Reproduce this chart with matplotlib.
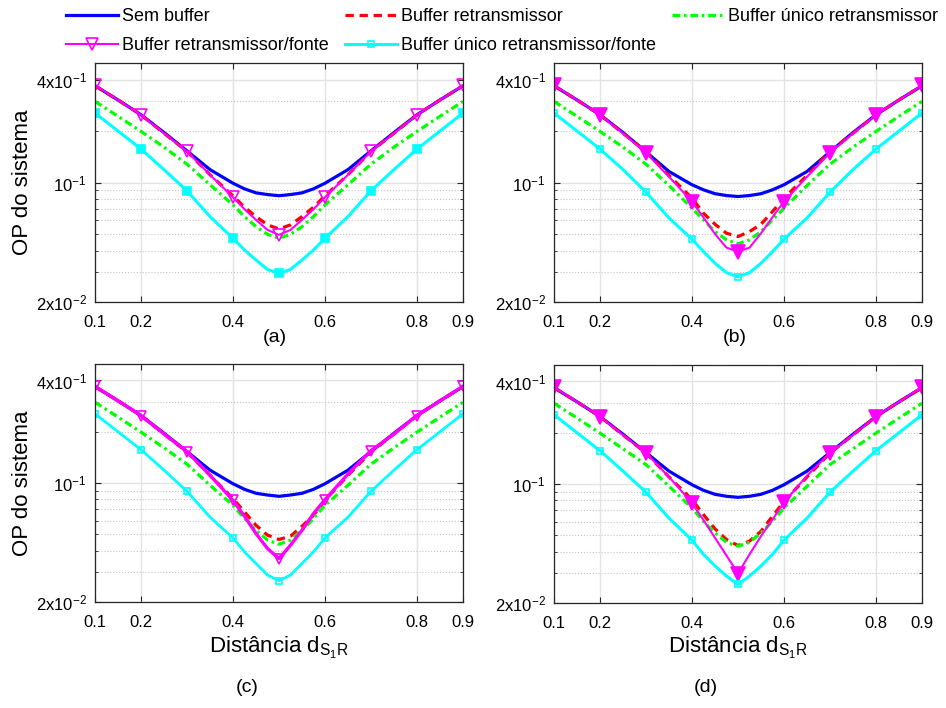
import matplotlib
matplotlib.use('Agg')
import matplotlib.pyplot as plt
from matplotlib.lines import Line2D
from matplotlib.ticker import LogLocator, NullFormatter

plt.rcParams['font.family'] = ['Liberation Sans', 'DejaVu Sans']
plt.rcParams['mathtext.fontset'] = 'custom'
plt.rcParams['mathtext.rm'] = 'Liberation Sans'
plt.rcParams['mathtext.it'] = 'Liberation Sans:italic'
plt.rcParams['mathtext.default'] = 'regular'

# distance d_S1R
dist = [0.10, 0.15, 0.20, 0.25, 0.30, 0.35, 0.40, 0.425, 0.45, 0.475, 0.50,
        0.525, 0.55, 0.575, 0.60, 0.65, 0.70, 0.75, 0.80, 0.85, 0.90]

# (a)
a_sem = [0.368, 0.304, 0.249, 0.196, 0.153, 0.119, 0.099, 0.0918, 0.087, 0.085, 0.0837,
         0.085, 0.087, 0.0918, 0.099, 0.119, 0.153, 0.196, 0.249, 0.304, 0.368]
a_ret = [0.368, 0.304, 0.249, 0.194, 0.152, 0.111, 0.0836, 0.0717, 0.0632, 0.0565, 0.0535,
         0.0565, 0.0632, 0.0717, 0.0836, 0.111, 0.152, 0.194, 0.249, 0.304, 0.368]
a_uni = [0.298, 0.244, 0.199, 0.161, 0.128, 0.097, 0.074, 0.0632, 0.0552, 0.0498, 0.0472,
         0.0498, 0.0552, 0.0632, 0.074, 0.097, 0.128, 0.161, 0.199, 0.244, 0.298]
a_retf = [0.370, 0.304, 0.249, 0.194, 0.152, 0.111, 0.082, 0.0698, 0.0605, 0.0528, 0.0494,
          0.0528, 0.0605, 0.0698, 0.082, 0.111, 0.152, 0.194, 0.249, 0.304, 0.370]
a_unif = [0.255, 0.200, 0.157, 0.119, 0.0894, 0.0632, 0.0472, 0.0403, 0.0352, 0.031, 0.0294,
          0.031, 0.0352, 0.0403, 0.0472, 0.0632, 0.0894, 0.119, 0.157, 0.200, 0.255]

# (b)
b_sem = [0.368, 0.304, 0.249, 0.196, 0.151, 0.116, 0.097, 0.0906, 0.086, 0.0839, 0.0828,
         0.0839, 0.086, 0.0906, 0.097, 0.116, 0.151, 0.196, 0.249, 0.304, 0.368]
b_ret = [0.368, 0.304, 0.249, 0.194, 0.152, 0.110, 0.081, 0.0661, 0.057, 0.0505, 0.0483,
         0.0516, 0.057, 0.0676, 0.081, 0.110, 0.152, 0.194, 0.249, 0.304, 0.368]
b_uni = [0.298, 0.244, 0.199, 0.161, 0.128, 0.096, 0.0708, 0.0605, 0.0516, 0.0462, 0.0438,
         0.0462, 0.0516, 0.0605, 0.0708, 0.096, 0.128, 0.161, 0.199, 0.244, 0.298]
b_retf = [0.370, 0.304, 0.249, 0.194, 0.149, 0.108, 0.0774, 0.0624, 0.050, 0.0416, 0.0394,
          0.0416, 0.0505, 0.0627, 0.0774, 0.108, 0.149, 0.194, 0.249, 0.304, 0.370]
b_unif = [0.255, 0.200, 0.157, 0.119, 0.0878, 0.062, 0.0466, 0.0394, 0.0337, 0.0297, 0.0281,
          0.0297, 0.0337, 0.0394, 0.0466, 0.062, 0.0878, 0.119, 0.157, 0.200, 0.255]

# (c)
c_sem = [0.368, 0.304, 0.249, 0.196, 0.153, 0.119, 0.099, 0.0918, 0.087, 0.085, 0.0835,
         0.085, 0.087, 0.0918, 0.099, 0.119, 0.153, 0.196, 0.249, 0.304, 0.368]
c_ret = [0.368, 0.304, 0.249, 0.194, 0.152, 0.111, 0.081, 0.0676, 0.0565, 0.0494, 0.0466,
         0.0487, 0.0557, 0.0646, 0.079, 0.111, 0.152, 0.194, 0.249, 0.304, 0.368]
c_uni = [0.298, 0.244, 0.199, 0.161, 0.129, 0.097, 0.074, 0.0618, 0.0528, 0.0462, 0.0437,
         0.0462, 0.0528, 0.0618, 0.074, 0.097, 0.129, 0.161, 0.199, 0.244, 0.298]
c_retf = [0.370, 0.304, 0.249, 0.194, 0.153, 0.111, 0.0791, 0.0638, 0.0505, 0.0412, 0.036,
          0.0431, 0.0528, 0.0661, 0.0799, 0.113, 0.155, 0.194, 0.249, 0.304, 0.370]
c_unif = [0.255, 0.200, 0.157, 0.119, 0.0894, 0.063, 0.0476, 0.0394, 0.0337, 0.0288, 0.0267,
          0.0288, 0.0337, 0.0394, 0.0476, 0.063, 0.0894, 0.119, 0.157, 0.200, 0.255]

# (d)
d_sem = [0.368, 0.304, 0.249, 0.196, 0.153, 0.119, 0.099, 0.0918, 0.087, 0.0847, 0.0835,
         0.0847, 0.087, 0.0918, 0.099, 0.119, 0.153, 0.196, 0.249, 0.304, 0.368]
d_ret = [0.368, 0.304, 0.249, 0.194, 0.152, 0.110, 0.081, 0.0661, 0.0545, 0.0472, 0.0435,
         0.0462, 0.0528, 0.0647, 0.079, 0.110, 0.152, 0.194, 0.249, 0.304, 0.368]
d_uni = [0.298, 0.244, 0.199, 0.161, 0.130, 0.097, 0.0723, 0.0604, 0.0516, 0.0455, 0.0431,
         0.0455, 0.0516, 0.0604, 0.0723, 0.097, 0.130, 0.161, 0.199, 0.244, 0.298]
d_retf = [0.370, 0.304, 0.249, 0.194, 0.152, 0.110, 0.0774, 0.0613, 0.0483, 0.038, 0.0298,
          0.0386, 0.0494, 0.0618, 0.078, 0.112, 0.152, 0.194, 0.249, 0.304, 0.370]
d_unif = [0.255, 0.200, 0.157, 0.119, 0.0894, 0.063, 0.0468, 0.0386, 0.033, 0.0288, 0.0257,
          0.0288, 0.033, 0.0386, 0.0468, 0.063, 0.0894, 0.119, 0.157, 0.200, 0.255]

names = ['Sem buffer', 'Buffer retransmissor', 'Buffer único retransmissor',
         'Buffer retransmissor/fonte', 'Buffer único retransmissor/fonte']
captions = ['(a)', '(b)', '(c)', '(d)']
xticks = [0.1, 0.2, 0.4, 0.6, 0.8, 0.9]
xtick_labels = ['0.1', '0.2', '0.4', '0.6', '0.8', '0.9']
yticks = [0.02, 0.1, 0.4]
ytick_labels = ['2x10$^{-2}$', '10$^{-1}$', '4x10$^{-1}$']

# markers only on the 0.1 steps
marks = [i for i, x in enumerate(dist) if abs(x * 10 - round(x * 10)) < 1e-6]

W, H = 946, 708
fig = plt.figure(figsize=(W / 100, H / 100), dpi=100)


def px_axes(l, t, r, b):
    return fig.add_axes([l / W, 1 - b / H, (r - l) / W, (b - t) / H])


# panel boxes in pixels: left, top, right, bottom
boxes = [(95, 63, 463, 302), (554, 63, 922, 302),
         (95, 364, 463, 602), (554, 365, 922, 603)]
panels = [(a_sem, a_ret, a_uni, a_retf, a_unif),
          (b_sem, b_ret, b_uni, b_retf, b_unif),
          (c_sem, c_ret, c_uni, c_retf, c_unif),
          (d_sem, d_ret, d_uni, d_retf, d_unif)]
# magenta: linewidth, markersize, filled ; cyan: linewidth, markersize, filled
styles = [(1.5, 8, False, 2.2, 6, True),
          (1.5, 9.5, True, 2.2, 5, False),
          (2.4, 7.5, False, 2.0, 5, False),
          (1.5, 9.5, True, 2.2, 5, False)]

for k in range(4):
    ax = px_axes(*boxes[k])
    sem, ret, uni, retf, unif = panels[k]
    mlw, mms, mfill, clw, cms, cfill = styles[k]

    ax.plot(dist, sem, '-', color='#0000ff', lw=2.3)
    ax.plot(dist, ret, '--', color='#ff0000', lw=2.3, dashes=(2.6, 1.8))
    ax.plot(dist, uni, '-.', color='#00ff00', lw=2.3, dashes=(2.4, 1.2, 0.8, 1.2))
    ax.plot(dist, retf, '-', color='#ff00ff', lw=mlw, marker='v', ms=mms,
            markevery=marks, mfc='#ff00ff' if mfill else 'none', mec='#ff00ff', mew=1.2)
    ax.plot(dist, unif, '-', color='#00ffff', lw=clw, marker='s', ms=cms,
            markevery=marks, mfc='#00ffff' if cfill else 'none', mec='#00ffff', mew=1.2)

    ax.set_yscale('log')
    ax.set_xlim(0.1, 0.9)
    ax.set_ylim(0.02, 0.5)
    ax.set_xticks(xticks)
    ax.set_xticklabels(xtick_labels)
    ax.set_yticks(yticks)
    ax.set_yticklabels(ytick_labels)
    ax.yaxis.set_minor_locator(LogLocator(subs=range(2, 10)))
    ax.yaxis.set_minor_formatter(NullFormatter())
    ax.tick_params(which='both', direction='in', top=True, right=True,
                   labelsize=12, color='#262626')
    ax.tick_params(axis='x', pad=9.5)
    ax.tick_params(axis='y', pad=6)
    ax.tick_params(which='major', length=4)
    ax.tick_params(which='minor', length=2)
    ax.grid(True, which='major', color='#e3e3e3', lw=1, ls='-')
    ax.grid(True, which='minor', axis='y', color='#c4c4c4', lw=0.8, ls=':')
    ax.set_axisbelow(True)
    for sp in ax.spines.values():
        sp.set_color('#262626')
        sp.set_linewidth(0.9)

# axis labels and captions
for yc in [182.5, 483]:
    fig.text(22 / W, 1 - yc / H, 'OP do sistema', rotation=90,
             ha='center', va='center', fontsize=16)
for xc in [279, 738]:
    fig.text(xc / W, 1 - 648 / H, 'Distância d$_{S_1R}$',
             ha='center', va='center', fontsize=16)
cap_pos = [(275, 338), (735, 338), (247, 688), (706, 688)]
for cap, (cx, cy) in zip(captions, cap_pos):
    fig.text(cx / W, 1 - cy / H, cap, ha='center', va='center', fontsize=14)

# legend (row-major order like the original)
h = [Line2D([], [], color='#0000ff', lw=2.3),
     Line2D([], [], color='#ff0000', lw=2.3, ls='--', dashes=(2.6, 1.8)),
     Line2D([], [], color='#00ff00', lw=2.3, ls='-.', dashes=(2.4, 1.2, 0.8, 1.2)),
     Line2D([], [], color='#ff00ff', lw=1.5, marker='v', ms=8, mfc='none', mew=1.2),
     Line2D([], [], color='#00ffff', lw=2.2, marker='s', ms=5, mfc='none', mew=1.2)]
order = [0, 3, 1, 4, 2]
fig.legend([h[i] for i in order], [names[i] for i in order], ncol=3,
           loc='upper left', bbox_to_anchor=(66 / W, 1 - 8 / H), frameon=False,
           fontsize=13, handlelength=2.9, handletextpad=0.2, columnspacing=0.9,
           labelspacing=0.67, borderpad=0, borderaxespad=0)

fig.savefig('out.png', dpi=100)
